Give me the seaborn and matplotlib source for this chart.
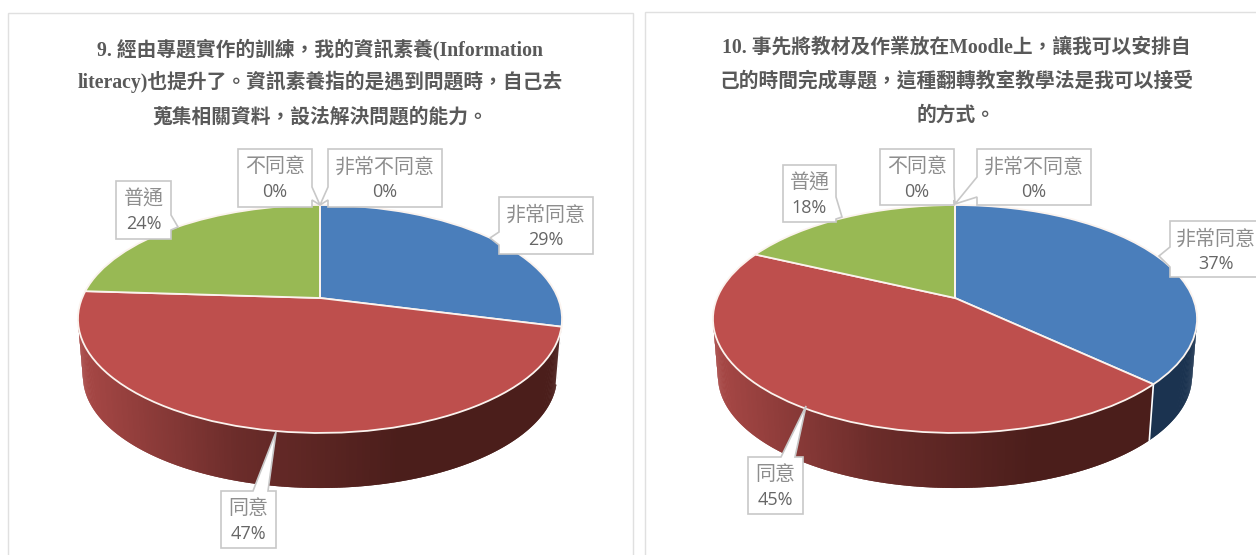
import numpy as np
import matplotlib
matplotlib.use("Agg")
import matplotlib.pyplot as plt
import seaborn as sns
from matplotlib.collections import PolyCollection
from matplotlib.patches import Polygon, Rectangle
from matplotlib.transforms import Transform

categories = ["非常同意", "同意", "普通", "不同意", "非常不同意"]
values_q9 = [29, 47, 24, 0, 0]
values_q10 = [37, 45, 18, 0, 0]

title_q9 = ["9. 經由專題實作的訓練，我的資訊素養(Information",
            "literacy)也提升了。資訊素養指的是遇到問題時，自己去",
            "蒐集相關資料，設法解決問題的能力。"]
title_q10 = ["10. 事先將教材及作業放在Moodle上，讓我可以安排自",
             "己的時間完成專題，這種翻轉教室教學法是我可以接受",
             "的方式。"]

sns.set_theme(style="white")
TITLE_FONT = ["Liberation Serif", "Noto Sans CJK TC"]
LABEL_FONT = ["Noto Sans CJK TC", "DejaVu Sans"]
VALUE_FONT = ["Open Sans", "DejaVu Sans"]

top_colors = sns.color_palette(["#4a7ebb", "#be4f4d", "#98b954", "#7d60a0", "#46aac5"])
blue_wall = "#1b3350"
green_wall = "#5c7030"
red_wall = sns.blend_palette(["#a84846", "#6b2c2a", "#4b1e1b", "#4b1e1b"], 64, as_cmap=True)

# perspective of the pie top
PERSP = 0.184
KX, KY = 237.9, 110.1
KX2, KY2 = 233.0, 107.9
WALL_DY = 57.8


class Persp(Transform):
    input_dims = 2
    output_dims = 2
    is_separable = False
    has_inverse = False

    def __init__(self, cx, cy, kx, ky):
        super().__init__()
        self.cx, self.cy, self.kx, self.ky = cx, cy, kx, ky

    def transform_non_affine(self, xy):
        xy = np.asarray(xy, dtype=float)
        d = 1 + PERSP * xy[:, 1]
        return np.column_stack([self.cx + self.kx * xy[:, 0] / d, self.cy - self.ky * xy[:, 1] / d])


def ring(theta, cx, cy, kx, ky):
    t = np.radians(theta)
    return Persp(cx, cy, kx, ky).transform_non_affine(np.column_stack([np.sin(t), np.cos(t)]))


def draw_pie(ax, values, cx, cy):
    # side wall first, strips between the top rim and the bottom rim
    edge = np.degrees(np.arccos(-PERSP))
    th = np.linspace(edge, 360 - edge, 301)
    top = ring(th, cx, cy, KX, KY)
    bot = ring(th, cx, cy + WALL_DY, KX2, KY2)
    bounds = np.cumsum(values) / np.sum(values) * 360
    polys, cols = [], []
    for i in range(len(th) - 1):
        mid = (th[i] + th[i + 1]) / 2
        s = np.searchsorted(bounds, mid)
        # th runs right to left, so each strip overlaps the next one to hide seams
        j = min(i + 2, len(th) - 1)
        f = (top[i, 0] - top[:, 0].min()) / np.ptp(top[:, 0])
        col = {0: blue_wall, 1: red_wall(f), 2: green_wall}[s]
        polys.append([top[i], top[j], bot[j], bot[i]])
        cols.append(col)
    ax.add_collection(PolyCollection(polys, facecolors=cols, edgecolors="none", zorder=1))
    for b in bounds:
        if edge < b < 360 - edge:
            p = ring(np.array([b]), cx, cy, KX, KY)[0]
            q = ring(np.array([b]), cx, cy + WALL_DY, KX2, KY2)[0]
            ax.plot([p[0], q[0]], [p[1], q[1]], color="white", lw=1.2, zorder=1.5)

    wedges, _ = ax.pie(values, colors=top_colors, startangle=90, counterclock=False,
                       wedgeprops=dict(edgecolor="#fbf3ee", linewidth=1.3))
    for w in wedges:
        w.set_transform(Persp(cx, cy, KX, KY) + ax.transData)
        w.set_zorder(2)
        w.set_clip_on(False)


def callout(ax, name, value, box, side, a, b, tip):
    x0, x1, y0, y1 = box
    pts = [(x0, y0)]
    if side == "top":
        pts += [(a, y0), tip, (b, y0)]
    pts += [(x1, y0)]
    if side == "right":
        pts += [(x1, a), tip, (x1, b)]
    pts += [(x1, y1), (x0, y1)]
    if side == "left":
        pts += [(x0, b), tip, (x0, a)]
    ax.add_patch(Polygon(pts, closed=True, facecolor="white", edgecolor="#c8c8c8", lw=1.2, zorder=3,
                         joinstyle="miter"))
    xc = (x0 + x1) / 2
    ax.text(xc, y0 + 18, name, ha="center", va="center", fontsize=14.4, color="#8e8e8e",
            family=LABEL_FONT, zorder=4)
    ax.text(xc, y0 + 43, f"{value}%", ha="center", va="center", fontsize=13, color="#666666",
            family=VALUE_FONT, zorder=4)


fig = plt.figure(figsize=(12.56, 5.55), dpi=100)
ax = fig.add_axes([0, 0, 1, 1])

for x0, x1, y0 in [(8, 633, 13), (645, 1270, 12)]:
    ax.add_patch(Rectangle((x0, y0), x1 - x0, 600, facecolor="white", edgecolor="#e0e0e0", lw=1.0, zorder=0))

draw_pie(ax, values_q9, 320, 298)
draw_pie(ax, values_q10, 955, 298)

for line, y in zip(title_q9, [55, 88, 122]):
    ax.text(320, y, line, ha="center", va="baseline", fontsize=14.2, fontweight="bold",
            color="#595959", family=TITLE_FONT)
for line, y in zip(title_q10, [53, 86, 121]):
    ax.text(956, y, line, ha="center", va="baseline", fontsize=14.2, fontweight="bold",
            color="#595959", family=TITLE_FONT)

callout(ax, categories[0], values_q9[0], (499, 593, 197, 254), "left", 232, 245, (490, 238))
callout(ax, categories[1], values_q9[1], (221, 276, 491, 548), "top", 253, 268, (276, 432))
callout(ax, categories[2], values_q9[2], (116, 171, 181, 239), "right", 215, 230, (178, 227))
callout(ax, categories[3], values_q9[3], (238, 312, 149, 207), "right", 187, 200, (320, 205))
callout(ax, categories[4], values_q9[4], (328, 442, 149, 207), "left", 187, 200, (320, 205))

callout(ax, categories[0], values_q10[0], (1170, 1262, 221, 277), "left", 247, 267, (1159, 256))
callout(ax, categories[1], values_q10[1], (748, 803, 457, 514), "top", 781, 795, (806, 406))
callout(ax, categories[2], values_q10[2], (783, 836, 165, 222), "right", 197, 219, (842, 217))
callout(ax, categories[3], values_q10[3], (880, 954, 149, 205), "right", 187, 200, (955, 204))
callout(ax, categories[4], values_q10[4], (977, 1091, 149, 205), "left", 177, 197, (955, 204))

ax.set_aspect("auto")
ax.set_xlim(0, 1256)
ax.set_ylim(555, 0)
ax.axis("off")

fig.savefig("out.png", dpi=100, facecolor="white")
